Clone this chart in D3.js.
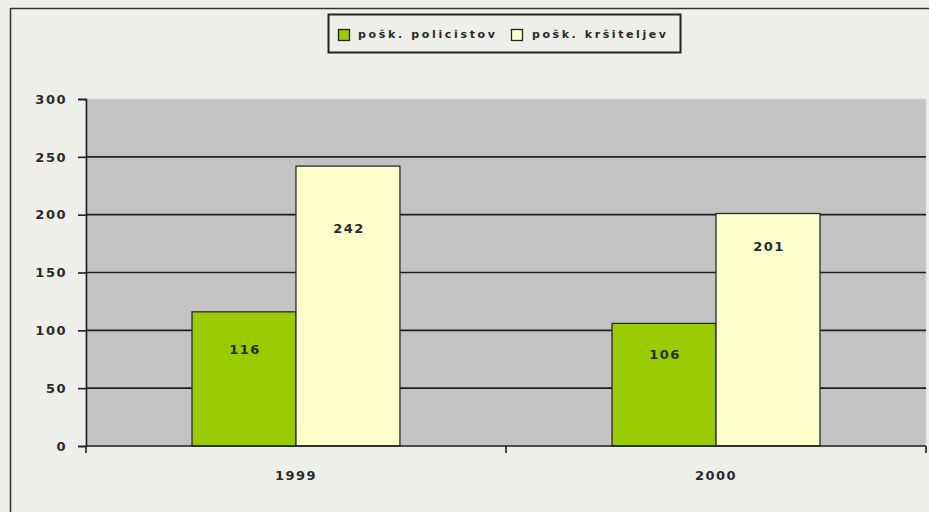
<!DOCTYPE html>
<html>
<head>
<meta charset="utf-8">
<script src="https://cdn.jsdelivr.net/npm/d3@7"></script>
<style>
  body { margin: 0; background: #eeeeea; }
  svg { display: block; }
  text { font-family: "DejaVu Sans", Verdana, sans-serif; fill: #2a2a2a; }
</style>
</head>
<body>
<script>
// data
var years = ["1999", "2000"];
var seriesNames = ["pošk. policistov", "pošk. kršiteljev"];
var policisti = [116, 106];
var krsitelji = [242, 201];
var yTicks = [0, 50, 100, 150, 200, 250, 300];

var colors = ["#99cc00", "#ffffcc"];
// the labels in the original sit at odd heights inside the bars
var labelDy = [[37, 31], [62, 33]];

function draw()
{
    var width = 929, height = 512;
    var svg = d3.select("body").append("svg")
        .attr("width", width)
        .attr("height", height);

    svg.append("rect").attr("width", width).attr("height", height).attr("fill", "#eeeeea");

    // outer frame, runs off the right and bottom edge
    svg.append("path")
        .attr("d", "M10.5," + (height + 5) + "V8.5H" + (width + 5))
        .attr("fill", "none").attr("stroke", "#333").attr("stroke-width", 1.5);

    var left = 86, right = 926, top = 99, bottom = 446;

    var x = d3.scaleBand().domain(years).range([left, right])
        .paddingInner(0.505).paddingOuter(0.2524);
    var x1 = d3.scaleBand().domain([0, 1]).range([0, x.bandwidth()]);
    var y = d3.scaleLinear().domain([0, 300]).range([bottom, top]);

    svg.append("rect")
        .attr("x", left).attr("y", top)
        .attr("width", right - left).attr("height", bottom - top)
        .attr("fill", "#c3c3c3").attr("stroke", "#d4d4d4");

    // gridlines
    svg.append("g").selectAll("line")
        .data(yTicks.filter(function (t) { return t > 0 && t < 300; }))
        .enter().append("line")
        .attr("x1", left).attr("x2", right)
        .attr("y1", function (d) { return y(d); })
        .attr("y2", function (d) { return y(d); })
        .attr("stroke", "#1e1e1e").attr("stroke-width", 1.6);

    var series = [policisti, krsitelji];
    var groups = svg.append("g").selectAll("g")
        .data(years).enter().append("g")
        .attr("transform", function (d) { return "translate(" + x(d) + ",0)"; });

    groups.selectAll("rect")
        .data(function (d, i) { return series.map(function (s, k) { return { k: k, v: s[i] }; }); })
        .enter().append("rect")
        .attr("x", function (d) { return x1(d.k); })
        .attr("width", x1.bandwidth())
        .attr("y", function (d) { return y(d.v); })
        .attr("height", function (d) { return y(0) - y(d.v); })
        .attr("fill", function (d) { return colors[d.k]; })
        .attr("stroke", "#2a2a2a").attr("stroke-width", 1.3);

    groups.selectAll("text")
        .data(function (d, i) { return series.map(function (s, k) { return { k: k, v: s[i], i: i }; }); })
        .enter().append("text")
        .attr("x", function (d) { return x1(d.k) + x1.bandwidth() / 2 + 1; })
        .attr("y", function (d) { return y(d.v) + labelDy[d.k][d.i]; })
        .attr("dy", "0.36em")
        .attr("text-anchor", "middle")
        .attr("font-size", 13).attr("font-weight", "bold").attr("letter-spacing", 1.5)
        .text(function (d) { return d.v; });

    // y axis
    var yAxis = svg.append("g")
        .attr("transform", "translate(" + left + ",0)")
        .call(d3.axisLeft(y).tickValues(yTicks).tickSize(8).tickPadding(11));
    yAxis.select(".domain").attr("stroke", "#1e1e1e").attr("stroke-width", 1.6);
    yAxis.selectAll(".tick line").attr("stroke", "#1e1e1e").attr("stroke-width", 1.6);
    yAxis.selectAll(".tick text")
        .attr("font-size", 13).attr("font-weight", "bold").attr("letter-spacing", 1.5)
        .attr("fill", "#2a2a2a")
        .attr("font-family", "DejaVu Sans, sans-serif");

    // x axis: line, ticks between categories, labels under the groups
    svg.append("line")
        .attr("x1", left).attr("x2", right).attr("y1", bottom).attr("y2", bottom)
        .attr("stroke", "#1e1e1e").attr("stroke-width", 1.6);
    var edges = [left].concat(years.map(function (d) { return x(d) + x.bandwidth() / 2 + x.step() / 2; }));
    svg.append("g").selectAll("line")
        .data(edges).enter().append("line")
        .attr("x1", function (d) { return d; }).attr("x2", function (d) { return d; })
        .attr("y1", bottom).attr("y2", bottom + 7)
        .attr("stroke", "#1e1e1e").attr("stroke-width", 1.6);
    svg.append("g").selectAll("text")
        .data(years).enter().append("text")
        .attr("x", function (d) { return x(d) + x.bandwidth() / 2; })
        .attr("y", 475)
        .attr("dy", "0.36em")
        .attr("text-anchor", "middle")
        .attr("font-size", 13).attr("font-weight", "bold").attr("letter-spacing", 1.5)
        .text(function (d) { return d; });

    // legend
    var lg = svg.append("g");
    lg.append("rect")
        .attr("x", 328.5).attr("y", 14.5).attr("width", 352).attr("height", 38)
        .attr("fill", "#eeeeea").attr("stroke", "#222").attr("stroke-width", 2);
    var items = [{ x: 338, tx: 358, w: 137 }, { x: 511, tx: 532, w: 134 }];
    lg.selectAll(".sw").data(seriesNames).enter().append("rect")
        .attr("x", function (d, i) { return items[i].x + 0.5; })
        .attr("y", 29.5).attr("width", 11).attr("height", 11)
        .attr("fill", function (d, i) { return colors[i]; })
        .attr("stroke", "#222").attr("stroke-width", 1.3);
    lg.selectAll(".lt").data(seriesNames).enter().append("text")
        .attr("x", function (d, i) { return items[i].tx; })
        .attr("y", 38)
        .attr("font-size", 11).attr("font-weight", "bold")
        .attr("textLength", function (d, i) { return items[i].w; })
        .attr("lengthAdjust", "spacing")
        .text(function (d) { return d; });
}
window.onload = draw;
</script>
</body>
</html>
